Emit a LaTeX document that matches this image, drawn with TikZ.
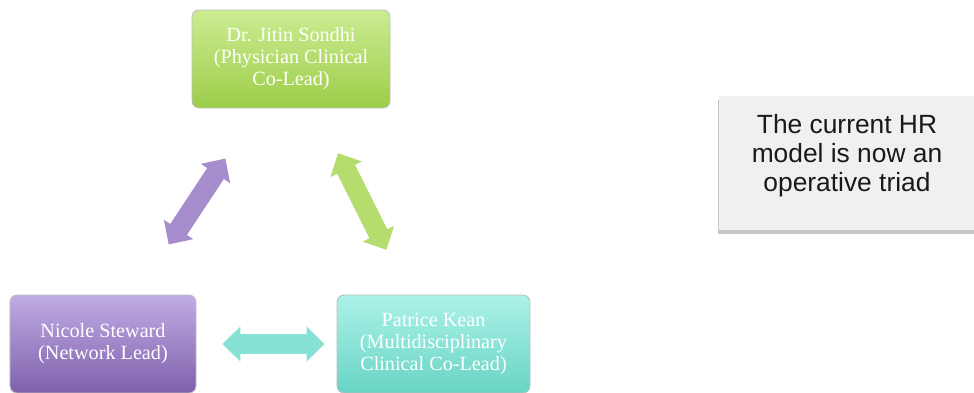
\documentclass[tikz,border=0pt]{standalone}
\usepackage{fontspec}
\setmainfont{Liberation Serif}
\setsansfont{Liberation Sans}
\usepackage{tikz}
\usetikzlibrary{calc}
\usetikzlibrary{arrows.meta}
\usetikzlibrary{shadows}
\tikzset{>=latex}
\definecolor{limetop}{RGB}{204,236,146}
\definecolor{limebot}{RGB}{156,205,72}
\definecolor{lilactop}{RGB}{192,172,228}
\definecolor{lilacbot}{RGB}{126,96,172}
\definecolor{aquatop}{RGB}{172,242,232}
\definecolor{aquabot}{RGB}{104,212,196}
\definecolor{notegray}{RGB}{240,240,240}
\tikzstyle{person} = [rectangle, rounded corners = 4pt, draw = black!25, line width = 0.5pt, text = white, align = center, inner sep = 2pt, minimum height = 1.96cm, font = \fontsize{11.5}{12.5}\selectfont]
\tikzstyle{link} = [line width = 0.4cm, {Triangle[length = 0.36cm, width = 0.68cm]}-{Triangle[length = 0.36cm, width = 0.68cm]}]

\begin{document}
\begin{tikzpicture}
\useasboundingbox (0, 0) rectangle (19.48, -7.84);
\node [person, minimum width = 3.96cm, top color = limetop, bottom color = limebot] (sondhi) at (5.82, -1.18) {Dr. Jitin Sondhi\\(Physician Clinical\\Co-Lead)};
\node [person, minimum width = 3.72cm, top color = lilactop, bottom color = lilacbot] (steward) at (2.06, -6.88) {Nicole Steward\\(Network Lead)};
\node [person, minimum width = 3.86cm, top color = aquatop, bottom color = aquabot] (kean) at (8.67, -6.88) {Patrice Kean\\(Multidisciplinary\\Clinical Co-Lead)};
\draw [link, draw = lilactop!60!lilacbot, shorten < = 1.2cm, shorten > = 1.2cm] (sondhi) -- (steward);
\draw [link, draw = limetop!50!limebot, shorten < = 1cm, shorten > = 1cm] (sondhi) -- (kean);
\draw [link, draw = aquatop!45!aquabot, shorten < = 0.52cm, shorten > = 0.24cm] (steward) -- (kean);
\node [rectangle, fill = notegray, drop shadow = {shadow xshift = -0.5pt, shadow yshift = -2.5pt, opacity = 0.45}, minimum width = 5.12cm, minimum height = 2.68cm, text depth = 0.39cm, align = center, font = \sffamily\fontsize{15}{16.5}\selectfont, text = black!90] (triad) at (16.94, -3.26) {The current HR\\model is now an\\operative triad};
\end{tikzpicture}
\end{document}
